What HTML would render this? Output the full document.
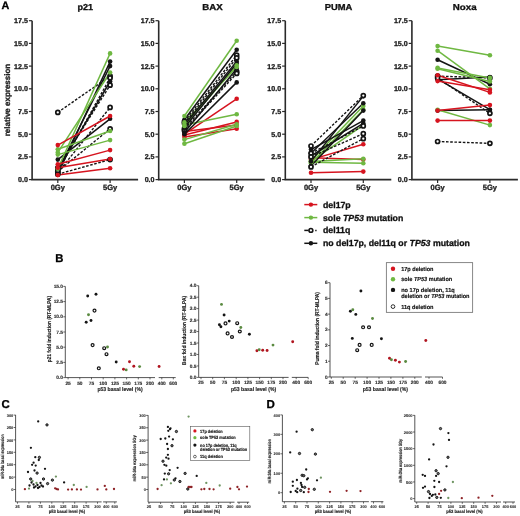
<!DOCTYPE html><html><head><meta charset="utf-8"><style>html,body{margin:0;padding:0;background:#fff;}svg{display:block;filter:blur(0.35px);}text{font-family:"Liberation Sans",sans-serif;text-rendering:geometricPrecision;}</style></head><body>
<svg width="520" height="516" viewBox="0 0 520 516">
<rect width="520" height="516" fill="#fff"/>
<text x="1.6" y="8.9" font-size="10.8" text-anchor="start" font-weight="bold" fill="#000" stroke="#000" stroke-width="0.3">A</text>
<text x="55.2" y="262.2" font-size="11.3" text-anchor="start" font-weight="bold" fill="#000" stroke="#000" stroke-width="0.3">B</text>
<text x="1.4" y="407.6" font-size="11.4" text-anchor="start" font-weight="bold" fill="#000" stroke="#000" stroke-width="0.3">C</text>
<text x="266.4" y="407.5" font-size="11.5" text-anchor="start" font-weight="bold" fill="#000" stroke="#000" stroke-width="0.3">D</text>
<path d="M32.1 20.69999999999999 V179.6 H138.1" fill="none" stroke="#2a2a2a" stroke-width="1.6"/>
<path d="M28.900000000000002 179.6H32.1" stroke="#2a2a2a" stroke-width="1.2"/>
<text x="27.900000000000002" y="182.1" font-size="7.1" text-anchor="end" font-weight="bold" fill="#1a1a1a" stroke="#1a1a1a" stroke-width="0.3">0.0</text>
<path d="M28.900000000000002 156.9H32.1" stroke="#2a2a2a" stroke-width="1.2"/>
<text x="27.900000000000002" y="159.4" font-size="7.1" text-anchor="end" font-weight="bold" fill="#1a1a1a" stroke="#1a1a1a" stroke-width="0.3">2.5</text>
<path d="M28.900000000000002 134.2H32.1" stroke="#2a2a2a" stroke-width="1.2"/>
<text x="27.900000000000002" y="136.7" font-size="7.1" text-anchor="end" font-weight="bold" fill="#1a1a1a" stroke="#1a1a1a" stroke-width="0.3">5.0</text>
<path d="M28.900000000000002 111.5H32.1" stroke="#2a2a2a" stroke-width="1.2"/>
<text x="27.900000000000002" y="114.0" font-size="7.1" text-anchor="end" font-weight="bold" fill="#1a1a1a" stroke="#1a1a1a" stroke-width="0.3">7.5</text>
<path d="M28.900000000000002 88.8H32.1" stroke="#2a2a2a" stroke-width="1.2"/>
<text x="27.900000000000002" y="91.3" font-size="7.1" text-anchor="end" font-weight="bold" fill="#1a1a1a" stroke="#1a1a1a" stroke-width="0.3">10.0</text>
<path d="M28.900000000000002 66.1H32.1" stroke="#2a2a2a" stroke-width="1.2"/>
<text x="27.900000000000002" y="68.6" font-size="7.1" text-anchor="end" font-weight="bold" fill="#1a1a1a" stroke="#1a1a1a" stroke-width="0.3">12.5</text>
<path d="M28.900000000000002 43.400000000000006H32.1" stroke="#2a2a2a" stroke-width="1.2"/>
<text x="27.900000000000002" y="45.900000000000006" font-size="7.1" text-anchor="end" font-weight="bold" fill="#1a1a1a" stroke="#1a1a1a" stroke-width="0.3">15.0</text>
<path d="M28.900000000000002 20.69999999999999H32.1" stroke="#2a2a2a" stroke-width="1.2"/>
<text x="27.900000000000002" y="23.19999999999999" font-size="7.1" text-anchor="end" font-weight="bold" fill="#1a1a1a" stroke="#1a1a1a" stroke-width="0.3">17.5</text>
<path d="M57.8 179.6V183.0" stroke="#2a2a2a" stroke-width="1.2"/>
<text x="57.8" y="189.6" font-size="7.5" text-anchor="middle" font-weight="bold" fill="#222" stroke="#222" stroke-width="0.3">0Gy</text>
<path d="M110.1 179.6V183.0" stroke="#2a2a2a" stroke-width="1.2"/>
<text x="110.1" y="189.6" font-size="7.5" text-anchor="middle" font-weight="bold" fill="#222" stroke="#222" stroke-width="0.3">5Gy</text>
<text x="85.3" y="10.4" font-size="8.6" text-anchor="middle" font-weight="bold" fill="#111" stroke="#111" stroke-width="0.3" textLength="15.6" lengthAdjust="spacingAndGlyphs">p21</text>
<line x1="57.8" y1="174.2" x2="110.1" y2="61.6" stroke="#141414" stroke-width="1.5"/>
<line x1="57.8" y1="170.5" x2="110.1" y2="66.1" stroke="#141414" stroke-width="1.5"/>
<line x1="57.8" y1="169.6" x2="110.1" y2="81.5" stroke="#141414" stroke-width="1.5"/>
<line x1="57.8" y1="159.6" x2="110.1" y2="118.8" stroke="#141414" stroke-width="1.5"/>
<line x1="57.8" y1="112.4" x2="110.1" y2="76.1" stroke="#141414" stroke-width="1.4" stroke-dasharray="2.6 1.6"/>
<line x1="57.8" y1="171.4" x2="110.1" y2="77.9" stroke="#141414" stroke-width="1.4" stroke-dasharray="2.6 1.6"/>
<line x1="57.8" y1="167.8" x2="110.1" y2="85.2" stroke="#141414" stroke-width="1.4" stroke-dasharray="2.6 1.6"/>
<line x1="57.8" y1="172.8" x2="110.1" y2="107.4" stroke="#141414" stroke-width="1.4" stroke-dasharray="2.6 1.6"/>
<line x1="57.8" y1="171.4" x2="110.1" y2="128.8" stroke="#141414" stroke-width="1.4" stroke-dasharray="2.6 1.6"/>
<line x1="57.8" y1="174.2" x2="110.1" y2="159.6" stroke="#141414" stroke-width="1.4" stroke-dasharray="2.6 1.6"/>
<line x1="57.8" y1="168.7" x2="110.1" y2="53.4" stroke="#6fb842" stroke-width="1.5"/>
<line x1="57.8" y1="152.4" x2="110.1" y2="72.5" stroke="#6fb842" stroke-width="1.5"/>
<line x1="57.8" y1="149.2" x2="110.1" y2="131.0" stroke="#6fb842" stroke-width="1.5"/>
<line x1="57.8" y1="154.6" x2="110.1" y2="140.1" stroke="#6fb842" stroke-width="1.5"/>
<line x1="57.8" y1="145.1" x2="110.1" y2="116.0" stroke="#d6141f" stroke-width="1.5"/>
<line x1="57.8" y1="164.2" x2="110.1" y2="150.1" stroke="#d6141f" stroke-width="1.5"/>
<line x1="57.8" y1="167.8" x2="110.1" y2="159.0" stroke="#d6141f" stroke-width="1.5"/>
<line x1="57.8" y1="175.1" x2="110.1" y2="168.2" stroke="#d6141f" stroke-width="1.5"/>
<circle cx="57.8" cy="174.2" r="2.3" fill="#141414"/>
<circle cx="110.1" cy="61.6" r="2.3" fill="#141414"/>
<circle cx="57.8" cy="170.5" r="2.3" fill="#141414"/>
<circle cx="110.1" cy="66.1" r="2.3" fill="#141414"/>
<circle cx="57.8" cy="169.6" r="2.3" fill="#141414"/>
<circle cx="110.1" cy="81.5" r="2.3" fill="#141414"/>
<circle cx="57.8" cy="159.6" r="2.3" fill="#141414"/>
<circle cx="110.1" cy="118.8" r="2.3" fill="#141414"/>
<circle cx="57.8" cy="112.4" r="2.0" fill="#fff" stroke="#141414" stroke-width="1.7"/>
<circle cx="110.1" cy="76.1" r="2.0" fill="#fff" stroke="#141414" stroke-width="1.7"/>
<circle cx="57.8" cy="171.4" r="2.0" fill="#fff" stroke="#141414" stroke-width="1.7"/>
<circle cx="110.1" cy="77.9" r="2.0" fill="#fff" stroke="#141414" stroke-width="1.7"/>
<circle cx="57.8" cy="167.8" r="2.0" fill="#fff" stroke="#141414" stroke-width="1.7"/>
<circle cx="110.1" cy="85.2" r="2.0" fill="#fff" stroke="#141414" stroke-width="1.7"/>
<circle cx="57.8" cy="172.8" r="2.0" fill="#fff" stroke="#141414" stroke-width="1.7"/>
<circle cx="110.1" cy="107.4" r="2.0" fill="#fff" stroke="#141414" stroke-width="1.7"/>
<circle cx="57.8" cy="171.4" r="2.0" fill="#fff" stroke="#141414" stroke-width="1.7"/>
<circle cx="110.1" cy="128.8" r="2.0" fill="#fff" stroke="#141414" stroke-width="1.7"/>
<circle cx="57.8" cy="174.2" r="2.0" fill="#fff" stroke="#141414" stroke-width="1.7"/>
<circle cx="110.1" cy="159.6" r="2.0" fill="#fff" stroke="#141414" stroke-width="1.7"/>
<circle cx="57.8" cy="168.7" r="2.3" fill="#6fb842"/>
<circle cx="110.1" cy="53.4" r="2.3" fill="#6fb842"/>
<circle cx="57.8" cy="152.4" r="2.3" fill="#6fb842"/>
<circle cx="110.1" cy="72.5" r="2.3" fill="#6fb842"/>
<circle cx="57.8" cy="149.2" r="2.3" fill="#6fb842"/>
<circle cx="110.1" cy="131.0" r="2.3" fill="#6fb842"/>
<circle cx="57.8" cy="154.6" r="2.3" fill="#6fb842"/>
<circle cx="110.1" cy="140.1" r="2.3" fill="#6fb842"/>
<circle cx="57.8" cy="145.1" r="2.3" fill="#d6141f"/>
<circle cx="110.1" cy="116.0" r="2.3" fill="#d6141f"/>
<circle cx="57.8" cy="164.2" r="2.3" fill="#d6141f"/>
<circle cx="110.1" cy="150.1" r="2.3" fill="#d6141f"/>
<circle cx="57.8" cy="167.8" r="2.3" fill="#d6141f"/>
<circle cx="110.1" cy="159.0" r="2.3" fill="#d6141f"/>
<circle cx="57.8" cy="175.1" r="2.3" fill="#d6141f"/>
<circle cx="110.1" cy="168.2" r="2.3" fill="#d6141f"/>
<path d="M158.7 20.69999999999999 V179.6 H264.7" fill="none" stroke="#2a2a2a" stroke-width="1.6"/>
<path d="M155.5 179.6H158.7" stroke="#2a2a2a" stroke-width="1.2"/>
<text x="154.5" y="182.1" font-size="7.1" text-anchor="end" font-weight="bold" fill="#1a1a1a" stroke="#1a1a1a" stroke-width="0.3">0.0</text>
<path d="M155.5 156.9H158.7" stroke="#2a2a2a" stroke-width="1.2"/>
<text x="154.5" y="159.4" font-size="7.1" text-anchor="end" font-weight="bold" fill="#1a1a1a" stroke="#1a1a1a" stroke-width="0.3">2.5</text>
<path d="M155.5 134.2H158.7" stroke="#2a2a2a" stroke-width="1.2"/>
<text x="154.5" y="136.7" font-size="7.1" text-anchor="end" font-weight="bold" fill="#1a1a1a" stroke="#1a1a1a" stroke-width="0.3">5.0</text>
<path d="M155.5 111.5H158.7" stroke="#2a2a2a" stroke-width="1.2"/>
<text x="154.5" y="114.0" font-size="7.1" text-anchor="end" font-weight="bold" fill="#1a1a1a" stroke="#1a1a1a" stroke-width="0.3">7.5</text>
<path d="M155.5 88.8H158.7" stroke="#2a2a2a" stroke-width="1.2"/>
<text x="154.5" y="91.3" font-size="7.1" text-anchor="end" font-weight="bold" fill="#1a1a1a" stroke="#1a1a1a" stroke-width="0.3">10.0</text>
<path d="M155.5 66.1H158.7" stroke="#2a2a2a" stroke-width="1.2"/>
<text x="154.5" y="68.6" font-size="7.1" text-anchor="end" font-weight="bold" fill="#1a1a1a" stroke="#1a1a1a" stroke-width="0.3">12.5</text>
<path d="M155.5 43.400000000000006H158.7" stroke="#2a2a2a" stroke-width="1.2"/>
<text x="154.5" y="45.900000000000006" font-size="7.1" text-anchor="end" font-weight="bold" fill="#1a1a1a" stroke="#1a1a1a" stroke-width="0.3">15.0</text>
<path d="M155.5 20.69999999999999H158.7" stroke="#2a2a2a" stroke-width="1.2"/>
<text x="154.5" y="23.19999999999999" font-size="7.1" text-anchor="end" font-weight="bold" fill="#1a1a1a" stroke="#1a1a1a" stroke-width="0.3">17.5</text>
<path d="M184.39999999999998 179.6V183.0" stroke="#2a2a2a" stroke-width="1.2"/>
<text x="184.39999999999998" y="189.6" font-size="7.5" text-anchor="middle" font-weight="bold" fill="#222" stroke="#222" stroke-width="0.3">0Gy</text>
<path d="M236.7 179.6V183.0" stroke="#2a2a2a" stroke-width="1.2"/>
<text x="236.7" y="189.6" font-size="7.5" text-anchor="middle" font-weight="bold" fill="#222" stroke="#222" stroke-width="0.3">5Gy</text>
<text x="212.5" y="10.4" font-size="8.6" text-anchor="middle" font-weight="bold" fill="#111" stroke="#111" stroke-width="0.3" textLength="20.4" lengthAdjust="spacingAndGlyphs">BAX</text>
<line x1="184.39999999999998" y1="134.2" x2="236.7" y2="98.8" stroke="#d6141f" stroke-width="1.5"/>
<line x1="184.39999999999998" y1="135.1" x2="236.7" y2="121.9" stroke="#d6141f" stroke-width="1.5"/>
<line x1="184.39999999999998" y1="136.9" x2="236.7" y2="128.8" stroke="#d6141f" stroke-width="1.5"/>
<line x1="184.39999999999998" y1="131.5" x2="236.7" y2="125.1" stroke="#d6141f" stroke-width="1.5"/>
<line x1="184.39999999999998" y1="116.0" x2="236.7" y2="40.7" stroke="#6fb842" stroke-width="1.5"/>
<line x1="184.39999999999998" y1="126.0" x2="236.7" y2="65.2" stroke="#6fb842" stroke-width="1.5"/>
<line x1="184.39999999999998" y1="122.4" x2="236.7" y2="67.0" stroke="#6fb842" stroke-width="1.5"/>
<line x1="184.39999999999998" y1="125.1" x2="236.7" y2="114.2" stroke="#6fb842" stroke-width="1.5"/>
<line x1="184.39999999999998" y1="139.6" x2="236.7" y2="124.2" stroke="#6fb842" stroke-width="1.5"/>
<line x1="184.39999999999998" y1="143.7" x2="236.7" y2="126.0" stroke="#6fb842" stroke-width="1.5"/>
<line x1="184.39999999999998" y1="121.5" x2="236.7" y2="55.2" stroke="#141414" stroke-width="1.4" stroke-dasharray="2.6 1.6"/>
<line x1="184.39999999999998" y1="123.3" x2="236.7" y2="57.9" stroke="#141414" stroke-width="1.4" stroke-dasharray="2.6 1.6"/>
<line x1="184.39999999999998" y1="128.8" x2="236.7" y2="71.5" stroke="#141414" stroke-width="1.4" stroke-dasharray="2.6 1.6"/>
<line x1="184.39999999999998" y1="130.6" x2="236.7" y2="73.4" stroke="#141414" stroke-width="1.4" stroke-dasharray="2.6 1.6"/>
<line x1="184.39999999999998" y1="119.7" x2="236.7" y2="49.8" stroke="#141414" stroke-width="1.5"/>
<line x1="184.39999999999998" y1="125.1" x2="236.7" y2="61.6" stroke="#141414" stroke-width="1.5"/>
<line x1="184.39999999999998" y1="132.4" x2="236.7" y2="68.8" stroke="#141414" stroke-width="1.5"/>
<line x1="184.39999999999998" y1="134.2" x2="236.7" y2="82.4" stroke="#141414" stroke-width="1.5"/>
<line x1="184.39999999999998" y1="127.8" x2="236.7" y2="63.4" stroke="#141414" stroke-width="1.5"/>
<circle cx="184.39999999999998" cy="134.2" r="2.3" fill="#d6141f"/>
<circle cx="236.7" cy="98.8" r="2.3" fill="#d6141f"/>
<circle cx="184.39999999999998" cy="135.1" r="2.3" fill="#d6141f"/>
<circle cx="236.7" cy="121.9" r="2.3" fill="#d6141f"/>
<circle cx="184.39999999999998" cy="136.9" r="2.3" fill="#d6141f"/>
<circle cx="236.7" cy="128.8" r="2.3" fill="#d6141f"/>
<circle cx="184.39999999999998" cy="131.5" r="2.3" fill="#d6141f"/>
<circle cx="236.7" cy="125.1" r="2.3" fill="#d6141f"/>
<circle cx="184.39999999999998" cy="121.5" r="2.0" fill="#fff" stroke="#141414" stroke-width="1.7"/>
<circle cx="236.7" cy="55.2" r="2.0" fill="#fff" stroke="#141414" stroke-width="1.7"/>
<circle cx="184.39999999999998" cy="123.3" r="2.0" fill="#fff" stroke="#141414" stroke-width="1.7"/>
<circle cx="236.7" cy="57.9" r="2.0" fill="#fff" stroke="#141414" stroke-width="1.7"/>
<circle cx="184.39999999999998" cy="128.8" r="2.0" fill="#fff" stroke="#141414" stroke-width="1.7"/>
<circle cx="236.7" cy="71.5" r="2.0" fill="#fff" stroke="#141414" stroke-width="1.7"/>
<circle cx="184.39999999999998" cy="130.6" r="2.0" fill="#fff" stroke="#141414" stroke-width="1.7"/>
<circle cx="236.7" cy="73.4" r="2.0" fill="#fff" stroke="#141414" stroke-width="1.7"/>
<circle cx="184.39999999999998" cy="119.7" r="2.3" fill="#141414"/>
<circle cx="236.7" cy="49.8" r="2.3" fill="#141414"/>
<circle cx="184.39999999999998" cy="125.1" r="2.3" fill="#141414"/>
<circle cx="236.7" cy="61.6" r="2.3" fill="#141414"/>
<circle cx="184.39999999999998" cy="132.4" r="2.3" fill="#141414"/>
<circle cx="236.7" cy="68.8" r="2.3" fill="#141414"/>
<circle cx="184.39999999999998" cy="134.2" r="2.3" fill="#141414"/>
<circle cx="236.7" cy="82.4" r="2.3" fill="#141414"/>
<circle cx="184.39999999999998" cy="127.8" r="2.3" fill="#141414"/>
<circle cx="236.7" cy="63.4" r="2.3" fill="#141414"/>
<circle cx="184.39999999999998" cy="116.0" r="2.3" fill="#6fb842"/>
<circle cx="236.7" cy="40.7" r="2.3" fill="#6fb842"/>
<circle cx="184.39999999999998" cy="126.0" r="2.3" fill="#6fb842"/>
<circle cx="236.7" cy="65.2" r="2.3" fill="#6fb842"/>
<circle cx="184.39999999999998" cy="122.4" r="2.3" fill="#6fb842"/>
<circle cx="236.7" cy="67.0" r="2.3" fill="#6fb842"/>
<circle cx="184.39999999999998" cy="125.1" r="2.3" fill="#6fb842"/>
<circle cx="236.7" cy="114.2" r="2.3" fill="#6fb842"/>
<circle cx="184.39999999999998" cy="139.6" r="2.3" fill="#6fb842"/>
<circle cx="236.7" cy="124.2" r="2.3" fill="#6fb842"/>
<circle cx="184.39999999999998" cy="143.7" r="2.3" fill="#6fb842"/>
<circle cx="236.7" cy="126.0" r="2.3" fill="#6fb842"/>
<path d="M285.3 20.69999999999999 V179.6 H391.3" fill="none" stroke="#2a2a2a" stroke-width="1.6"/>
<path d="M282.1 179.6H285.3" stroke="#2a2a2a" stroke-width="1.2"/>
<text x="281.1" y="182.1" font-size="7.1" text-anchor="end" font-weight="bold" fill="#1a1a1a" stroke="#1a1a1a" stroke-width="0.3">0.0</text>
<path d="M282.1 156.9H285.3" stroke="#2a2a2a" stroke-width="1.2"/>
<text x="281.1" y="159.4" font-size="7.1" text-anchor="end" font-weight="bold" fill="#1a1a1a" stroke="#1a1a1a" stroke-width="0.3">2.5</text>
<path d="M282.1 134.2H285.3" stroke="#2a2a2a" stroke-width="1.2"/>
<text x="281.1" y="136.7" font-size="7.1" text-anchor="end" font-weight="bold" fill="#1a1a1a" stroke="#1a1a1a" stroke-width="0.3">5.0</text>
<path d="M282.1 111.5H285.3" stroke="#2a2a2a" stroke-width="1.2"/>
<text x="281.1" y="114.0" font-size="7.1" text-anchor="end" font-weight="bold" fill="#1a1a1a" stroke="#1a1a1a" stroke-width="0.3">7.5</text>
<path d="M282.1 88.8H285.3" stroke="#2a2a2a" stroke-width="1.2"/>
<text x="281.1" y="91.3" font-size="7.1" text-anchor="end" font-weight="bold" fill="#1a1a1a" stroke="#1a1a1a" stroke-width="0.3">10.0</text>
<path d="M282.1 66.1H285.3" stroke="#2a2a2a" stroke-width="1.2"/>
<text x="281.1" y="68.6" font-size="7.1" text-anchor="end" font-weight="bold" fill="#1a1a1a" stroke="#1a1a1a" stroke-width="0.3">12.5</text>
<path d="M282.1 43.400000000000006H285.3" stroke="#2a2a2a" stroke-width="1.2"/>
<text x="281.1" y="45.900000000000006" font-size="7.1" text-anchor="end" font-weight="bold" fill="#1a1a1a" stroke="#1a1a1a" stroke-width="0.3">15.0</text>
<path d="M282.1 20.69999999999999H285.3" stroke="#2a2a2a" stroke-width="1.2"/>
<text x="281.1" y="23.19999999999999" font-size="7.1" text-anchor="end" font-weight="bold" fill="#1a1a1a" stroke="#1a1a1a" stroke-width="0.3">17.5</text>
<path d="M311.0 179.6V183.0" stroke="#2a2a2a" stroke-width="1.2"/>
<text x="311.0" y="189.6" font-size="7.5" text-anchor="middle" font-weight="bold" fill="#222" stroke="#222" stroke-width="0.3">0Gy</text>
<path d="M363.3 179.6V183.0" stroke="#2a2a2a" stroke-width="1.2"/>
<text x="363.3" y="189.6" font-size="7.5" text-anchor="middle" font-weight="bold" fill="#222" stroke="#222" stroke-width="0.3">5Gy</text>
<text x="338.6" y="10.4" font-size="8.6" text-anchor="middle" font-weight="bold" fill="#111" stroke="#111" stroke-width="0.3" textLength="27.6" lengthAdjust="spacingAndGlyphs">PUMA</text>
<line x1="311.0" y1="159.6" x2="363.3" y2="144.2" stroke="#d6141f" stroke-width="1.5"/>
<line x1="311.0" y1="157.8" x2="363.3" y2="159.6" stroke="#d6141f" stroke-width="1.5"/>
<line x1="311.0" y1="172.8" x2="363.3" y2="171.6" stroke="#d6141f" stroke-width="1.5"/>
<line x1="311.0" y1="160.5" x2="363.3" y2="106.1" stroke="#6fb842" stroke-width="1.5"/>
<line x1="311.0" y1="163.3" x2="363.3" y2="109.7" stroke="#6fb842" stroke-width="1.5"/>
<line x1="311.0" y1="161.4" x2="363.3" y2="125.1" stroke="#6fb842" stroke-width="1.5"/>
<line x1="311.0" y1="161.4" x2="363.3" y2="158.7" stroke="#6fb842" stroke-width="1.5"/>
<line x1="311.0" y1="162.3" x2="363.3" y2="163.3" stroke="#6fb842" stroke-width="1.5"/>
<line x1="311.0" y1="161.4" x2="363.3" y2="96.1" stroke="#141414" stroke-width="1.5"/>
<line x1="311.0" y1="153.3" x2="363.3" y2="103.3" stroke="#141414" stroke-width="1.5"/>
<line x1="311.0" y1="149.6" x2="363.3" y2="120.6" stroke="#141414" stroke-width="1.5"/>
<line x1="311.0" y1="156.0" x2="363.3" y2="123.3" stroke="#141414" stroke-width="1.5"/>
<line x1="311.0" y1="166.0" x2="363.3" y2="110.6" stroke="#141414" stroke-width="1.5"/>
<line x1="311.0" y1="146.0" x2="363.3" y2="95.6" stroke="#141414" stroke-width="1.4" stroke-dasharray="2.6 1.6"/>
<line x1="311.0" y1="153.3" x2="363.3" y2="126.0" stroke="#141414" stroke-width="1.4" stroke-dasharray="2.6 1.6"/>
<line x1="311.0" y1="156.9" x2="363.3" y2="133.7" stroke="#141414" stroke-width="1.4" stroke-dasharray="2.6 1.6"/>
<line x1="311.0" y1="166.9" x2="363.3" y2="138.7" stroke="#141414" stroke-width="1.4" stroke-dasharray="2.6 1.6"/>
<circle cx="311.0" cy="159.6" r="2.3" fill="#d6141f"/>
<circle cx="363.3" cy="144.2" r="2.3" fill="#d6141f"/>
<circle cx="311.0" cy="157.8" r="2.3" fill="#d6141f"/>
<circle cx="363.3" cy="159.6" r="2.3" fill="#d6141f"/>
<circle cx="311.0" cy="172.8" r="2.3" fill="#d6141f"/>
<circle cx="363.3" cy="171.6" r="2.3" fill="#d6141f"/>
<circle cx="311.0" cy="160.5" r="2.3" fill="#6fb842"/>
<circle cx="363.3" cy="106.1" r="2.3" fill="#6fb842"/>
<circle cx="311.0" cy="163.3" r="2.3" fill="#6fb842"/>
<circle cx="363.3" cy="109.7" r="2.3" fill="#6fb842"/>
<circle cx="311.0" cy="161.4" r="2.3" fill="#6fb842"/>
<circle cx="363.3" cy="125.1" r="2.3" fill="#6fb842"/>
<circle cx="311.0" cy="161.4" r="2.3" fill="#6fb842"/>
<circle cx="363.3" cy="158.7" r="2.3" fill="#6fb842"/>
<circle cx="311.0" cy="162.3" r="2.3" fill="#6fb842"/>
<circle cx="363.3" cy="163.3" r="2.3" fill="#6fb842"/>
<circle cx="311.0" cy="161.4" r="2.3" fill="#141414"/>
<circle cx="363.3" cy="96.1" r="2.3" fill="#141414"/>
<circle cx="311.0" cy="153.3" r="2.3" fill="#141414"/>
<circle cx="363.3" cy="103.3" r="2.3" fill="#141414"/>
<circle cx="311.0" cy="149.6" r="2.3" fill="#141414"/>
<circle cx="363.3" cy="120.6" r="2.3" fill="#141414"/>
<circle cx="311.0" cy="156.0" r="2.3" fill="#141414"/>
<circle cx="363.3" cy="123.3" r="2.3" fill="#141414"/>
<circle cx="311.0" cy="166.0" r="2.3" fill="#141414"/>
<circle cx="363.3" cy="110.6" r="2.3" fill="#141414"/>
<circle cx="311.0" cy="146.0" r="2.0" fill="#fff" stroke="#141414" stroke-width="1.7"/>
<circle cx="363.3" cy="95.6" r="2.0" fill="#fff" stroke="#141414" stroke-width="1.7"/>
<circle cx="311.0" cy="153.3" r="2.0" fill="#fff" stroke="#141414" stroke-width="1.7"/>
<circle cx="363.3" cy="126.0" r="2.0" fill="#fff" stroke="#141414" stroke-width="1.7"/>
<circle cx="311.0" cy="156.9" r="2.0" fill="#fff" stroke="#141414" stroke-width="1.7"/>
<circle cx="363.3" cy="133.7" r="2.0" fill="#fff" stroke="#141414" stroke-width="1.7"/>
<circle cx="311.0" cy="166.9" r="2.0" fill="#fff" stroke="#141414" stroke-width="1.7"/>
<circle cx="363.3" cy="138.7" r="2.0" fill="#fff" stroke="#141414" stroke-width="1.7"/>
<path d="M411.9 20.69999999999999 V179.6 H517.9" fill="none" stroke="#2a2a2a" stroke-width="1.6"/>
<path d="M408.7 179.6H411.9" stroke="#2a2a2a" stroke-width="1.2"/>
<text x="407.7" y="182.1" font-size="7.1" text-anchor="end" font-weight="bold" fill="#1a1a1a" stroke="#1a1a1a" stroke-width="0.3">0.0</text>
<path d="M408.7 156.9H411.9" stroke="#2a2a2a" stroke-width="1.2"/>
<text x="407.7" y="159.4" font-size="7.1" text-anchor="end" font-weight="bold" fill="#1a1a1a" stroke="#1a1a1a" stroke-width="0.3">2.5</text>
<path d="M408.7 134.2H411.9" stroke="#2a2a2a" stroke-width="1.2"/>
<text x="407.7" y="136.7" font-size="7.1" text-anchor="end" font-weight="bold" fill="#1a1a1a" stroke="#1a1a1a" stroke-width="0.3">5.0</text>
<path d="M408.7 111.5H411.9" stroke="#2a2a2a" stroke-width="1.2"/>
<text x="407.7" y="114.0" font-size="7.1" text-anchor="end" font-weight="bold" fill="#1a1a1a" stroke="#1a1a1a" stroke-width="0.3">7.5</text>
<path d="M408.7 88.8H411.9" stroke="#2a2a2a" stroke-width="1.2"/>
<text x="407.7" y="91.3" font-size="7.1" text-anchor="end" font-weight="bold" fill="#1a1a1a" stroke="#1a1a1a" stroke-width="0.3">10.0</text>
<path d="M408.7 66.1H411.9" stroke="#2a2a2a" stroke-width="1.2"/>
<text x="407.7" y="68.6" font-size="7.1" text-anchor="end" font-weight="bold" fill="#1a1a1a" stroke="#1a1a1a" stroke-width="0.3">12.5</text>
<path d="M408.7 43.400000000000006H411.9" stroke="#2a2a2a" stroke-width="1.2"/>
<text x="407.7" y="45.900000000000006" font-size="7.1" text-anchor="end" font-weight="bold" fill="#1a1a1a" stroke="#1a1a1a" stroke-width="0.3">15.0</text>
<path d="M408.7 20.69999999999999H411.9" stroke="#2a2a2a" stroke-width="1.2"/>
<text x="407.7" y="23.19999999999999" font-size="7.1" text-anchor="end" font-weight="bold" fill="#1a1a1a" stroke="#1a1a1a" stroke-width="0.3">17.5</text>
<path d="M437.59999999999997 179.6V183.0" stroke="#2a2a2a" stroke-width="1.2"/>
<text x="437.59999999999997" y="189.6" font-size="7.5" text-anchor="middle" font-weight="bold" fill="#222" stroke="#222" stroke-width="0.3">0Gy</text>
<path d="M489.9 179.6V183.0" stroke="#2a2a2a" stroke-width="1.2"/>
<text x="489.9" y="189.6" font-size="7.5" text-anchor="middle" font-weight="bold" fill="#222" stroke="#222" stroke-width="0.3">5Gy</text>
<text x="464.7" y="10.4" font-size="8.6" text-anchor="middle" font-weight="bold" fill="#111" stroke="#111" stroke-width="0.3" textLength="23.8" lengthAdjust="spacingAndGlyphs">Noxa</text>
<line x1="437.59999999999997" y1="59.7" x2="489.9" y2="84.3" stroke="#141414" stroke-width="1.5"/>
<line x1="437.59999999999997" y1="78.8" x2="489.9" y2="109.7" stroke="#141414" stroke-width="1.5"/>
<line x1="437.59999999999997" y1="79.7" x2="489.9" y2="77.0" stroke="#141414" stroke-width="1.5"/>
<line x1="437.59999999999997" y1="110.6" x2="489.9" y2="109.7" stroke="#141414" stroke-width="1.5"/>
<line x1="437.59999999999997" y1="76.1" x2="489.9" y2="77.9" stroke="#141414" stroke-width="1.4" stroke-dasharray="2.6 1.6"/>
<line x1="437.59999999999997" y1="77.9" x2="489.9" y2="113.3" stroke="#141414" stroke-width="1.4" stroke-dasharray="2.6 1.6"/>
<line x1="437.59999999999997" y1="141.5" x2="489.9" y2="143.3" stroke="#141414" stroke-width="1.4" stroke-dasharray="2.6 1.6"/>
<line x1="437.59999999999997" y1="46.1" x2="489.9" y2="55.2" stroke="#6fb842" stroke-width="1.5"/>
<line x1="437.59999999999997" y1="50.7" x2="489.9" y2="88.8" stroke="#6fb842" stroke-width="1.5"/>
<line x1="437.59999999999997" y1="68.8" x2="489.9" y2="81.5" stroke="#6fb842" stroke-width="1.5"/>
<line x1="437.59999999999997" y1="67.9" x2="489.9" y2="77.9" stroke="#6fb842" stroke-width="1.5"/>
<line x1="437.59999999999997" y1="109.7" x2="489.9" y2="125.1" stroke="#6fb842" stroke-width="1.5"/>
<line x1="437.59999999999997" y1="75.2" x2="489.9" y2="92.4" stroke="#d6141f" stroke-width="1.5"/>
<line x1="437.59999999999997" y1="81.1" x2="489.9" y2="89.7" stroke="#d6141f" stroke-width="1.5"/>
<line x1="437.59999999999997" y1="110.6" x2="489.9" y2="105.1" stroke="#d6141f" stroke-width="1.5"/>
<line x1="437.59999999999997" y1="120.6" x2="489.9" y2="120.6" stroke="#d6141f" stroke-width="1.5"/>
<circle cx="437.59999999999997" cy="59.7" r="2.3" fill="#141414"/>
<circle cx="489.9" cy="84.3" r="2.3" fill="#141414"/>
<circle cx="437.59999999999997" cy="78.8" r="2.3" fill="#141414"/>
<circle cx="489.9" cy="109.7" r="2.3" fill="#141414"/>
<circle cx="437.59999999999997" cy="79.7" r="2.3" fill="#141414"/>
<circle cx="489.9" cy="77.0" r="2.3" fill="#141414"/>
<circle cx="437.59999999999997" cy="110.6" r="2.3" fill="#141414"/>
<circle cx="489.9" cy="109.7" r="2.3" fill="#141414"/>
<circle cx="437.59999999999997" cy="76.1" r="2.0" fill="#fff" stroke="#141414" stroke-width="1.7"/>
<circle cx="489.9" cy="77.9" r="2.0" fill="#fff" stroke="#141414" stroke-width="1.7"/>
<circle cx="437.59999999999997" cy="77.9" r="2.0" fill="#fff" stroke="#141414" stroke-width="1.7"/>
<circle cx="489.9" cy="113.3" r="2.0" fill="#fff" stroke="#141414" stroke-width="1.7"/>
<circle cx="437.59999999999997" cy="141.5" r="2.0" fill="#fff" stroke="#141414" stroke-width="1.7"/>
<circle cx="489.9" cy="143.3" r="2.0" fill="#fff" stroke="#141414" stroke-width="1.7"/>
<circle cx="437.59999999999997" cy="46.1" r="2.3" fill="#6fb842"/>
<circle cx="489.9" cy="55.2" r="2.3" fill="#6fb842"/>
<circle cx="437.59999999999997" cy="50.7" r="2.3" fill="#6fb842"/>
<circle cx="489.9" cy="88.8" r="2.3" fill="#6fb842"/>
<circle cx="437.59999999999997" cy="68.8" r="2.3" fill="#6fb842"/>
<circle cx="489.9" cy="81.5" r="2.3" fill="#6fb842"/>
<circle cx="437.59999999999997" cy="67.9" r="2.3" fill="#6fb842"/>
<circle cx="489.9" cy="77.9" r="2.3" fill="#6fb842"/>
<circle cx="437.59999999999997" cy="109.7" r="2.3" fill="#6fb842"/>
<circle cx="489.9" cy="125.1" r="2.3" fill="#6fb842"/>
<circle cx="437.59999999999997" cy="75.2" r="2.3" fill="#d6141f"/>
<circle cx="489.9" cy="92.4" r="2.3" fill="#d6141f"/>
<circle cx="437.59999999999997" cy="81.1" r="2.3" fill="#d6141f"/>
<circle cx="489.9" cy="89.7" r="2.3" fill="#d6141f"/>
<circle cx="437.59999999999997" cy="110.6" r="2.3" fill="#d6141f"/>
<circle cx="489.9" cy="105.1" r="2.3" fill="#d6141f"/>
<circle cx="437.59999999999997" cy="120.6" r="2.3" fill="#d6141f"/>
<circle cx="489.9" cy="120.6" r="2.3" fill="#d6141f"/>
<text x="9.9" y="100" font-size="8.0" text-anchor="middle" font-weight="bold" fill="#222" stroke="#222" stroke-width="0.3" textLength="72.5" lengthAdjust="spacingAndGlyphs" transform="rotate(-90 9.9 100)">relative expression</text>
<line x1="304.3" y1="204.6" x2="317.3" y2="204.6" stroke="#d6141f" stroke-width="1.5"/>
<circle cx="310.9" cy="204.6" r="2.2" fill="#d6141f"/>
<line x1="304.3" y1="217.6" x2="317.3" y2="217.6" stroke="#6fb842" stroke-width="1.5"/>
<circle cx="310.9" cy="217.6" r="2.2" fill="#6fb842"/>
<line x1="304.3" y1="230.4" x2="308.6" y2="230.4" stroke="#141414" stroke-width="1.5"/>
<line x1="315.2" y1="230.4" x2="316.6" y2="230.4" stroke="#141414" stroke-width="1.5"/>
<circle cx="310.9" cy="230.4" r="1.9" fill="#fff" stroke="#141414" stroke-width="1.6"/>
<line x1="304.3" y1="243.3" x2="317.3" y2="243.3" stroke="#141414" stroke-width="1.5"/>
<circle cx="310.9" cy="243.3" r="2.2" fill="#141414"/>
<text x="323" y="207.6" font-size="8.75" font-weight="bold" fill="#111" stroke="#111" stroke-width="0.3">del17p</text>
<text x="323" y="220.6" font-size="8.75" font-weight="bold" fill="#111" stroke="#111" stroke-width="0.3">sole <tspan font-style="italic">TP53</tspan> mutation</text>
<text x="323" y="233.4" font-size="8.75" font-weight="bold" fill="#111" stroke="#111" stroke-width="0.3">del11q</text>
<text x="323" y="246.3" font-size="8.75" font-weight="bold" fill="#111" stroke="#111" stroke-width="0.3">no del17p, del11q or <tspan font-style="italic">TP53</tspan> mutation</text>
<path d="M65.3 286.4 V377.6" fill="none" stroke="#2a2a2a" stroke-width="0.8"/>
<path d="M63.3 377.6H65.3" stroke="#2a2a2a" stroke-width="0.7"/>
<text x="63.0" y="379.20000000000005" font-size="4.8" text-anchor="end" font-weight="bold" fill="#333" stroke="#333" stroke-width="0.15">0.0</text>
<path d="M63.3 362.40000000000003H65.3" stroke="#2a2a2a" stroke-width="0.7"/>
<text x="63.0" y="364.00000000000006" font-size="4.8" text-anchor="end" font-weight="bold" fill="#333" stroke="#333" stroke-width="0.15">2.5</text>
<path d="M63.3 347.20000000000005H65.3" stroke="#2a2a2a" stroke-width="0.7"/>
<text x="63.0" y="348.80000000000007" font-size="4.8" text-anchor="end" font-weight="bold" fill="#333" stroke="#333" stroke-width="0.15">5.0</text>
<path d="M63.3 332.0H65.3" stroke="#2a2a2a" stroke-width="0.7"/>
<text x="63.0" y="333.6" font-size="4.8" text-anchor="end" font-weight="bold" fill="#333" stroke="#333" stroke-width="0.15">7.5</text>
<path d="M63.3 316.8H65.3" stroke="#2a2a2a" stroke-width="0.7"/>
<text x="63.0" y="318.40000000000003" font-size="4.8" text-anchor="end" font-weight="bold" fill="#333" stroke="#333" stroke-width="0.15">10.0</text>
<path d="M63.3 301.6H65.3" stroke="#2a2a2a" stroke-width="0.7"/>
<text x="63.0" y="303.20000000000005" font-size="4.8" text-anchor="end" font-weight="bold" fill="#333" stroke="#333" stroke-width="0.15">12.5</text>
<path d="M63.3 286.40000000000003H65.3" stroke="#2a2a2a" stroke-width="0.7"/>
<text x="63.0" y="288.00000000000006" font-size="4.8" text-anchor="end" font-weight="bold" fill="#333" stroke="#333" stroke-width="0.15">15.0</text>
<path d="M65.3 377.6 H155 M158.7 377.6 H175.7" fill="none" stroke="#2a2a2a" stroke-width="0.8"/>
<path d="M68.1 377.6V379.40000000000003" stroke="#2a2a2a" stroke-width="0.7"/>
<text x="68.1" y="384.6" font-size="4.8" text-anchor="middle" font-weight="bold" fill="#333" stroke="#333" stroke-width="0.15">25</text>
<path d="M79.8 377.6V379.40000000000003" stroke="#2a2a2a" stroke-width="0.7"/>
<text x="79.8" y="384.6" font-size="4.8" text-anchor="middle" font-weight="bold" fill="#333" stroke="#333" stroke-width="0.15">50</text>
<path d="M91.5 377.6V379.40000000000003" stroke="#2a2a2a" stroke-width="0.7"/>
<text x="91.5" y="384.6" font-size="4.8" text-anchor="middle" font-weight="bold" fill="#333" stroke="#333" stroke-width="0.15">75</text>
<path d="M103.2 377.6V379.40000000000003" stroke="#2a2a2a" stroke-width="0.7"/>
<text x="103.2" y="384.6" font-size="4.8" text-anchor="middle" font-weight="bold" fill="#333" stroke="#333" stroke-width="0.15">100</text>
<path d="M114.9 377.6V379.40000000000003" stroke="#2a2a2a" stroke-width="0.7"/>
<text x="114.9" y="384.6" font-size="4.8" text-anchor="middle" font-weight="bold" fill="#333" stroke="#333" stroke-width="0.15">125</text>
<path d="M126.6 377.6V379.40000000000003" stroke="#2a2a2a" stroke-width="0.7"/>
<text x="126.6" y="384.6" font-size="4.8" text-anchor="middle" font-weight="bold" fill="#333" stroke="#333" stroke-width="0.15">150</text>
<path d="M138.3 377.6V379.40000000000003" stroke="#2a2a2a" stroke-width="0.7"/>
<text x="138.3" y="384.6" font-size="4.8" text-anchor="middle" font-weight="bold" fill="#333" stroke="#333" stroke-width="0.15">175</text>
<path d="M150.0 377.6V379.40000000000003" stroke="#2a2a2a" stroke-width="0.7"/>
<text x="150.0" y="384.6" font-size="4.8" text-anchor="middle" font-weight="bold" fill="#333" stroke="#333" stroke-width="0.15">200</text>
<path d="M161.8 377.6V379.40000000000003" stroke="#2a2a2a" stroke-width="0.7"/>
<text x="161.8" y="384.6" font-size="4.8" text-anchor="middle" font-weight="bold" fill="#333" stroke="#333" stroke-width="0.15">400</text>
<path d="M173.3 377.6V379.40000000000003" stroke="#2a2a2a" stroke-width="0.7"/>
<text x="173.3" y="384.6" font-size="4.8" text-anchor="middle" font-weight="bold" fill="#333" stroke="#333" stroke-width="0.15">600</text>
<text x="120" y="391.0" font-size="5.6" text-anchor="middle" font-weight="bold" fill="#222" stroke="#222" stroke-width="0.15" textLength="45.2" lengthAdjust="spacingAndGlyphs">p53 basal level (%)</text>
<text x="50.8" y="329" font-size="5.6" text-anchor="middle" font-weight="bold" fill="#222" stroke="#222" stroke-width="0.15" textLength="66.3" lengthAdjust="spacingAndGlyphs" transform="rotate(-90 50.8 329)">p21 fold induction (RT-MLPA)</text>
<circle cx="87.7" cy="296" r="1.45" fill="#141414"/>
<circle cx="96" cy="294.3" r="1.45" fill="#141414"/>
<circle cx="94.5" cy="310.6" r="1.45" fill="#fff" stroke="#141414" stroke-width="1.23"/>
<circle cx="88.5" cy="314.7" r="1.45" fill="#5a8a40"/>
<circle cx="86.2" cy="322.2" r="1.45" fill="#141414"/>
<circle cx="91" cy="320.5" r="1.45" fill="#141414"/>
<circle cx="92.6" cy="345.1" r="1.45" fill="#fff" stroke="#141414" stroke-width="1.23"/>
<circle cx="104.2" cy="348.2" r="1.45" fill="#fff" stroke="#141414" stroke-width="1.23"/>
<circle cx="107.5" cy="347" r="1.45" fill="#5a8a40"/>
<circle cx="106.5" cy="354.2" r="1.45" fill="#fff" stroke="#141414" stroke-width="1.23"/>
<circle cx="98.8" cy="368.3" r="1.45" fill="#fff" stroke="#141414" stroke-width="1.23"/>
<circle cx="116.2" cy="362" r="1.45" fill="#141414"/>
<circle cx="123.5" cy="369.3" r="1.45" fill="#b0141f"/>
<circle cx="126.2" cy="369.9" r="1.45" fill="#5a8a40"/>
<circle cx="129.5" cy="361.8" r="1.45" fill="#b0141f"/>
<circle cx="133.8" cy="366.2" r="1.45" fill="#b0141f"/>
<circle cx="139.6" cy="366.6" r="1.45" fill="#5a8a40"/>
<circle cx="159.1" cy="366.5" r="1.45" fill="#b0141f"/>
<path d="M198.7 285.7 V377.4" fill="none" stroke="#2a2a2a" stroke-width="0.8"/>
<path d="M196.7 377.4H198.7" stroke="#2a2a2a" stroke-width="0.7"/>
<text x="196.39999999999998" y="379.0" font-size="4.8" text-anchor="end" font-weight="bold" fill="#333" stroke="#333" stroke-width="0.15">0.0</text>
<path d="M196.7 365.94H198.7" stroke="#2a2a2a" stroke-width="0.7"/>
<text x="196.39999999999998" y="367.54" font-size="4.8" text-anchor="end" font-weight="bold" fill="#333" stroke="#333" stroke-width="0.15">0.5</text>
<path d="M196.7 354.47999999999996H198.7" stroke="#2a2a2a" stroke-width="0.7"/>
<text x="196.39999999999998" y="356.08" font-size="4.8" text-anchor="end" font-weight="bold" fill="#333" stroke="#333" stroke-width="0.15">1.0</text>
<path d="M196.7 343.02H198.7" stroke="#2a2a2a" stroke-width="0.7"/>
<text x="196.39999999999998" y="344.62" font-size="4.8" text-anchor="end" font-weight="bold" fill="#333" stroke="#333" stroke-width="0.15">1.5</text>
<path d="M196.7 331.55999999999995H198.7" stroke="#2a2a2a" stroke-width="0.7"/>
<text x="196.39999999999998" y="333.15999999999997" font-size="4.8" text-anchor="end" font-weight="bold" fill="#333" stroke="#333" stroke-width="0.15">2.0</text>
<path d="M196.7 320.09999999999997H198.7" stroke="#2a2a2a" stroke-width="0.7"/>
<text x="196.39999999999998" y="321.7" font-size="4.8" text-anchor="end" font-weight="bold" fill="#333" stroke="#333" stroke-width="0.15">2.5</text>
<path d="M196.7 308.64H198.7" stroke="#2a2a2a" stroke-width="0.7"/>
<text x="196.39999999999998" y="310.24" font-size="4.8" text-anchor="end" font-weight="bold" fill="#333" stroke="#333" stroke-width="0.15">3.0</text>
<path d="M196.7 297.17999999999995H198.7" stroke="#2a2a2a" stroke-width="0.7"/>
<text x="196.39999999999998" y="298.78" font-size="4.8" text-anchor="end" font-weight="bold" fill="#333" stroke="#333" stroke-width="0.15">3.5</text>
<path d="M196.7 285.71999999999997H198.7" stroke="#2a2a2a" stroke-width="0.7"/>
<text x="196.39999999999998" y="287.32" font-size="4.8" text-anchor="end" font-weight="bold" fill="#333" stroke="#333" stroke-width="0.15">4.0</text>
<path d="M198.7 377.4 H288.6 M291.8 377.4 H308.2" fill="none" stroke="#2a2a2a" stroke-width="0.8"/>
<path d="M201.0 377.4V379.2" stroke="#2a2a2a" stroke-width="0.7"/>
<text x="201.0" y="384.4" font-size="4.8" text-anchor="middle" font-weight="bold" fill="#333" stroke="#333" stroke-width="0.15">25</text>
<path d="M212.7 377.4V379.2" stroke="#2a2a2a" stroke-width="0.7"/>
<text x="212.7" y="384.4" font-size="4.8" text-anchor="middle" font-weight="bold" fill="#333" stroke="#333" stroke-width="0.15">50</text>
<path d="M224.4 377.4V379.2" stroke="#2a2a2a" stroke-width="0.7"/>
<text x="224.4" y="384.4" font-size="4.8" text-anchor="middle" font-weight="bold" fill="#333" stroke="#333" stroke-width="0.15">75</text>
<path d="M236.2 377.4V379.2" stroke="#2a2a2a" stroke-width="0.7"/>
<text x="236.2" y="384.4" font-size="4.8" text-anchor="middle" font-weight="bold" fill="#333" stroke="#333" stroke-width="0.15">100</text>
<path d="M247.9 377.4V379.2" stroke="#2a2a2a" stroke-width="0.7"/>
<text x="247.9" y="384.4" font-size="4.8" text-anchor="middle" font-weight="bold" fill="#333" stroke="#333" stroke-width="0.15">125</text>
<path d="M259.6 377.4V379.2" stroke="#2a2a2a" stroke-width="0.7"/>
<text x="259.6" y="384.4" font-size="4.8" text-anchor="middle" font-weight="bold" fill="#333" stroke="#333" stroke-width="0.15">150</text>
<path d="M271.3 377.4V379.2" stroke="#2a2a2a" stroke-width="0.7"/>
<text x="271.3" y="384.4" font-size="4.8" text-anchor="middle" font-weight="bold" fill="#333" stroke="#333" stroke-width="0.15">175</text>
<path d="M283.0 377.4V379.2" stroke="#2a2a2a" stroke-width="0.7"/>
<text x="283.0" y="384.4" font-size="4.8" text-anchor="middle" font-weight="bold" fill="#333" stroke="#333" stroke-width="0.15">200</text>
<path d="M296.2 377.4V379.2" stroke="#2a2a2a" stroke-width="0.7"/>
<text x="296.2" y="384.4" font-size="4.8" text-anchor="middle" font-weight="bold" fill="#333" stroke="#333" stroke-width="0.15">400</text>
<path d="M308.2 377.4V379.2" stroke="#2a2a2a" stroke-width="0.7"/>
<text x="308.2" y="384.4" font-size="4.8" text-anchor="middle" font-weight="bold" fill="#333" stroke="#333" stroke-width="0.15">600</text>
<text x="253.5" y="390.9" font-size="5.6" text-anchor="middle" font-weight="bold" fill="#222" stroke="#222" stroke-width="0.15" textLength="45.2" lengthAdjust="spacingAndGlyphs">p53 basal level (%)</text>
<text x="186.0" y="330.4" font-size="5.6" text-anchor="middle" font-weight="bold" fill="#222" stroke="#222" stroke-width="0.15" textLength="69" lengthAdjust="spacingAndGlyphs" transform="rotate(-90 186.0 330.4)">Bax fold induction (RT-MLPA)</text>
<circle cx="221.5" cy="304.4" r="1.45" fill="#5a8a40"/>
<circle cx="224.1" cy="315" r="1.45" fill="#141414"/>
<circle cx="219.4" cy="324.8" r="1.45" fill="#141414"/>
<circle cx="220.9" cy="326.8" r="1.45" fill="#141414"/>
<circle cx="225.5" cy="323.4" r="1.45" fill="#fff" stroke="#141414" stroke-width="1.23"/>
<circle cx="229.2" cy="321.1" r="1.45" fill="#141414"/>
<circle cx="237.2" cy="323.2" r="1.45" fill="#fff" stroke="#141414" stroke-width="1.23"/>
<circle cx="240.8" cy="327.5" r="1.45" fill="#5a8a40"/>
<circle cx="239.8" cy="331.5" r="1.45" fill="#fff" stroke="#141414" stroke-width="1.23"/>
<circle cx="227.6" cy="333.4" r="1.45" fill="#fff" stroke="#141414" stroke-width="1.23"/>
<circle cx="232" cy="337" r="1.45" fill="#fff" stroke="#141414" stroke-width="1.23"/>
<circle cx="249.4" cy="334.3" r="1.45" fill="#141414"/>
<circle cx="256.9" cy="350.8" r="1.45" fill="#b0141f"/>
<circle cx="259.2" cy="349.8" r="1.45" fill="#5a8a40"/>
<circle cx="262.7" cy="350.2" r="1.45" fill="#b0141f"/>
<circle cx="267.1" cy="350.5" r="1.45" fill="#b0141f"/>
<circle cx="273" cy="345.1" r="1.45" fill="#5a8a40"/>
<circle cx="292.7" cy="341.8" r="1.45" fill="#b0141f"/>
<path d="M330 282.7 V377.0" fill="none" stroke="#2a2a2a" stroke-width="0.8"/>
<path d="M328 377.0H330" stroke="#2a2a2a" stroke-width="0.7"/>
<text x="327.7" y="378.6" font-size="4.8" text-anchor="end" font-weight="bold" fill="#333" stroke="#333" stroke-width="0.15">0</text>
<path d="M328 361.28H330" stroke="#2a2a2a" stroke-width="0.7"/>
<text x="327.7" y="362.88" font-size="4.8" text-anchor="end" font-weight="bold" fill="#333" stroke="#333" stroke-width="0.15">1</text>
<path d="M328 345.56H330" stroke="#2a2a2a" stroke-width="0.7"/>
<text x="327.7" y="347.16" font-size="4.8" text-anchor="end" font-weight="bold" fill="#333" stroke="#333" stroke-width="0.15">2</text>
<path d="M328 329.84H330" stroke="#2a2a2a" stroke-width="0.7"/>
<text x="327.7" y="331.44" font-size="4.8" text-anchor="end" font-weight="bold" fill="#333" stroke="#333" stroke-width="0.15">3</text>
<path d="M328 314.12H330" stroke="#2a2a2a" stroke-width="0.7"/>
<text x="327.7" y="315.72" font-size="4.8" text-anchor="end" font-weight="bold" fill="#333" stroke="#333" stroke-width="0.15">4</text>
<path d="M328 298.4H330" stroke="#2a2a2a" stroke-width="0.7"/>
<text x="327.7" y="300.0" font-size="4.8" text-anchor="end" font-weight="bold" fill="#333" stroke="#333" stroke-width="0.15">5</text>
<path d="M328 282.68H330" stroke="#2a2a2a" stroke-width="0.7"/>
<text x="327.7" y="284.28000000000003" font-size="4.8" text-anchor="end" font-weight="bold" fill="#333" stroke="#333" stroke-width="0.15">6</text>
<path d="M330 377.0 H421.8 M425 377.0 H442.5" fill="none" stroke="#2a2a2a" stroke-width="0.8"/>
<path d="M331.3 377.0V378.8" stroke="#2a2a2a" stroke-width="0.7"/>
<text x="331.3" y="384.0" font-size="4.8" text-anchor="middle" font-weight="bold" fill="#333" stroke="#333" stroke-width="0.15">25</text>
<path d="M343.2 377.0V378.8" stroke="#2a2a2a" stroke-width="0.7"/>
<text x="343.2" y="384.0" font-size="4.8" text-anchor="middle" font-weight="bold" fill="#333" stroke="#333" stroke-width="0.15">50</text>
<path d="M355.2 377.0V378.8" stroke="#2a2a2a" stroke-width="0.7"/>
<text x="355.2" y="384.0" font-size="4.8" text-anchor="middle" font-weight="bold" fill="#333" stroke="#333" stroke-width="0.15">75</text>
<path d="M367.1 377.0V378.8" stroke="#2a2a2a" stroke-width="0.7"/>
<text x="367.1" y="384.0" font-size="4.8" text-anchor="middle" font-weight="bold" fill="#333" stroke="#333" stroke-width="0.15">100</text>
<path d="M379.0 377.0V378.8" stroke="#2a2a2a" stroke-width="0.7"/>
<text x="379.0" y="384.0" font-size="4.8" text-anchor="middle" font-weight="bold" fill="#333" stroke="#333" stroke-width="0.15">125</text>
<path d="M390.9 377.0V378.8" stroke="#2a2a2a" stroke-width="0.7"/>
<text x="390.9" y="384.0" font-size="4.8" text-anchor="middle" font-weight="bold" fill="#333" stroke="#333" stroke-width="0.15">150</text>
<path d="M402.9 377.0V378.8" stroke="#2a2a2a" stroke-width="0.7"/>
<text x="402.9" y="384.0" font-size="4.8" text-anchor="middle" font-weight="bold" fill="#333" stroke="#333" stroke-width="0.15">175</text>
<path d="M414.8 377.0V378.8" stroke="#2a2a2a" stroke-width="0.7"/>
<text x="414.8" y="384.0" font-size="4.8" text-anchor="middle" font-weight="bold" fill="#333" stroke="#333" stroke-width="0.15">200</text>
<path d="M429 377.0V378.8" stroke="#2a2a2a" stroke-width="0.7"/>
<text x="429" y="384.0" font-size="4.8" text-anchor="middle" font-weight="bold" fill="#333" stroke="#333" stroke-width="0.15">400</text>
<path d="M442.5 377.0V378.8" stroke="#2a2a2a" stroke-width="0.7"/>
<text x="442.5" y="384.0" font-size="4.8" text-anchor="middle" font-weight="bold" fill="#333" stroke="#333" stroke-width="0.15">600</text>
<text x="385.3" y="390.9" font-size="5.6" text-anchor="middle" font-weight="bold" fill="#222" stroke="#222" stroke-width="0.15" textLength="45.2" lengthAdjust="spacingAndGlyphs">p53 basal level (%)</text>
<text x="319.3" y="328.4" font-size="5.6" text-anchor="middle" font-weight="bold" fill="#222" stroke="#222" stroke-width="0.15" textLength="72.7" lengthAdjust="spacingAndGlyphs" transform="rotate(-90 319.3 328.4)">Puma fold induction (RT-MLPA)</text>
<circle cx="360.9" cy="291" r="1.45" fill="#141414"/>
<circle cx="352.8" cy="309.8" r="1.45" fill="#5a8a40"/>
<circle cx="350.4" cy="311.2" r="1.45" fill="#141414"/>
<circle cx="355.8" cy="314.4" r="1.45" fill="#141414"/>
<circle cx="372.5" cy="318.5" r="1.45" fill="#5a8a40"/>
<circle cx="363.1" cy="327.3" r="1.45" fill="#fff" stroke="#141414" stroke-width="1.23"/>
<circle cx="369" cy="327.3" r="1.45" fill="#fff" stroke="#141414" stroke-width="1.23"/>
<circle cx="352.3" cy="338.4" r="1.45" fill="#141414"/>
<circle cx="381.4" cy="338.7" r="1.45" fill="#141414"/>
<circle cx="359.6" cy="344.9" r="1.45" fill="#fff" stroke="#141414" stroke-width="1.23"/>
<circle cx="371.7" cy="344.9" r="1.45" fill="#fff" stroke="#141414" stroke-width="1.23"/>
<circle cx="357.2" cy="350.2" r="1.45" fill="#fff" stroke="#141414" stroke-width="1.23"/>
<circle cx="389.5" cy="358.3" r="1.45" fill="#b0141f"/>
<circle cx="391.4" cy="359.7" r="1.45" fill="#5a8a40"/>
<circle cx="395.4" cy="360.2" r="1.45" fill="#b0141f"/>
<circle cx="399.4" cy="362.1" r="1.45" fill="#b0141f"/>
<circle cx="405.6" cy="361.5" r="1.45" fill="#5a8a40"/>
<circle cx="425.8" cy="340.5" r="1.45" fill="#b0141f"/>
<rect x="386.3" y="262.7" width="86.4" height="49.6" fill="#fff" stroke="#555" stroke-width="0.7"/>
<circle cx="393" cy="268.8" r="2.2" fill="#d6141f"/>
<text x="401.2" y="270.92400000000004" font-size="5.9" text-anchor="start" font-weight="bold" fill="#111" stroke="#111" stroke-width="0.15" textLength="32.3" lengthAdjust="spacingAndGlyphs">17p deletion</text>
<circle cx="393" cy="279.2" r="2.2" fill="#6fb842"/>
<text x="401.2" y="281.324" font-size="5.9" text-anchor="start" font-weight="bold" fill="#111" stroke="#111" stroke-width="0.15" textLength="51" lengthAdjust="spacingAndGlyphs">sole <tspan font-style="italic">TP53</tspan> mutation</text>
<circle cx="393" cy="289.9" r="2.2" fill="#141414"/>
<text x="401.2" y="292.024" font-size="5.9" text-anchor="start" font-weight="bold" fill="#111" stroke="#111" stroke-width="0.15" textLength="53.5" lengthAdjust="spacingAndGlyphs">no 17p deletion, 11q</text>
<text x="401.2" y="298.324" font-size="5.9" text-anchor="start" font-weight="bold" fill="#111" stroke="#111" stroke-width="0.15" textLength="68.3" lengthAdjust="spacingAndGlyphs">deletion or <tspan font-style="italic">TP53</tspan> mutation</text>
<circle cx="393" cy="306.6" r="1.87" fill="#fff" stroke="#141414" stroke-width="0.88"/>
<text x="401.2" y="308.72400000000005" font-size="5.9" text-anchor="start" font-weight="bold" fill="#111" stroke="#111" stroke-width="0.15" textLength="32.3" lengthAdjust="spacingAndGlyphs">11q deletion</text>
<path d="M15.6 414.9 V501.9" fill="none" stroke="#2a2a2a" stroke-width="0.8"/>
<path d="M13.6 489.5H15.6" stroke="#2a2a2a" stroke-width="0.7"/>
<text x="13.3" y="491.1" font-size="3.9" text-anchor="end" font-weight="bold" fill="#333" stroke="#333" stroke-width="0.1">0</text>
<path d="M13.6 477.1H15.6" stroke="#2a2a2a" stroke-width="0.7"/>
<text x="13.3" y="478.70000000000005" font-size="3.9" text-anchor="end" font-weight="bold" fill="#333" stroke="#333" stroke-width="0.1">50</text>
<path d="M13.6 464.7H15.6" stroke="#2a2a2a" stroke-width="0.7"/>
<text x="13.3" y="466.3" font-size="3.9" text-anchor="end" font-weight="bold" fill="#333" stroke="#333" stroke-width="0.1">100</text>
<path d="M13.6 452.3H15.6" stroke="#2a2a2a" stroke-width="0.7"/>
<text x="13.3" y="453.90000000000003" font-size="3.9" text-anchor="end" font-weight="bold" fill="#333" stroke="#333" stroke-width="0.1">150</text>
<path d="M13.6 439.9H15.6" stroke="#2a2a2a" stroke-width="0.7"/>
<text x="13.3" y="441.5" font-size="3.9" text-anchor="end" font-weight="bold" fill="#333" stroke="#333" stroke-width="0.1">200</text>
<path d="M13.6 427.5H15.6" stroke="#2a2a2a" stroke-width="0.7"/>
<text x="13.3" y="429.1" font-size="3.9" text-anchor="end" font-weight="bold" fill="#333" stroke="#333" stroke-width="0.1">250</text>
<path d="M13.6 415.1H15.6" stroke="#2a2a2a" stroke-width="0.7"/>
<text x="13.3" y="416.70000000000005" font-size="3.9" text-anchor="end" font-weight="bold" fill="#333" stroke="#333" stroke-width="0.1">300</text>
<path d="M15.6 501.9 H101.6 M103.1 501.9 H116.9" fill="none" stroke="#2a2a2a" stroke-width="0.8"/>
<path d="M17.5 501.9V503.7" stroke="#2a2a2a" stroke-width="0.7"/>
<text x="17.5" y="507.79999999999995" font-size="3.9" text-anchor="middle" font-weight="bold" fill="#333" stroke="#333" stroke-width="0.1">25</text>
<path d="M28.9 501.9V503.7" stroke="#2a2a2a" stroke-width="0.7"/>
<text x="28.9" y="507.79999999999995" font-size="3.9" text-anchor="middle" font-weight="bold" fill="#333" stroke="#333" stroke-width="0.1">50</text>
<path d="M40.4 501.9V503.7" stroke="#2a2a2a" stroke-width="0.7"/>
<text x="40.4" y="507.79999999999995" font-size="3.9" text-anchor="middle" font-weight="bold" fill="#333" stroke="#333" stroke-width="0.1">75</text>
<path d="M51.8 501.9V503.7" stroke="#2a2a2a" stroke-width="0.7"/>
<text x="51.8" y="507.79999999999995" font-size="3.9" text-anchor="middle" font-weight="bold" fill="#333" stroke="#333" stroke-width="0.1">100</text>
<path d="M63.2 501.9V503.7" stroke="#2a2a2a" stroke-width="0.7"/>
<text x="63.2" y="507.79999999999995" font-size="3.9" text-anchor="middle" font-weight="bold" fill="#333" stroke="#333" stroke-width="0.1">125</text>
<path d="M74.7 501.9V503.7" stroke="#2a2a2a" stroke-width="0.7"/>
<text x="74.7" y="507.79999999999995" font-size="3.9" text-anchor="middle" font-weight="bold" fill="#333" stroke="#333" stroke-width="0.1">150</text>
<path d="M86.1 501.9V503.7" stroke="#2a2a2a" stroke-width="0.7"/>
<text x="86.1" y="507.79999999999995" font-size="3.9" text-anchor="middle" font-weight="bold" fill="#333" stroke="#333" stroke-width="0.1">175</text>
<path d="M97.5 501.9V503.7" stroke="#2a2a2a" stroke-width="0.7"/>
<text x="97.5" y="507.79999999999995" font-size="3.9" text-anchor="middle" font-weight="bold" fill="#333" stroke="#333" stroke-width="0.1">200</text>
<path d="M106.3 501.9V503.7" stroke="#2a2a2a" stroke-width="0.7"/>
<text x="106.3" y="507.79999999999995" font-size="3.9" text-anchor="middle" font-weight="bold" fill="#333" stroke="#333" stroke-width="0.1">400</text>
<path d="M114.8 501.9V503.7" stroke="#2a2a2a" stroke-width="0.7"/>
<text x="114.8" y="507.79999999999995" font-size="3.9" text-anchor="middle" font-weight="bold" fill="#333" stroke="#333" stroke-width="0.1">600</text>
<text x="66.9" y="513.0" font-size="4.6" text-anchor="middle" font-weight="bold" fill="#222" stroke="#222" stroke-width="0.15" textLength="36.3" lengthAdjust="spacingAndGlyphs">p53 basal level (%)</text>
<text x="3.9" y="456.7" font-size="4.6" text-anchor="middle" font-weight="bold" fill="#222" stroke="#222" stroke-width="0.15" textLength="44.6" lengthAdjust="spacingAndGlyphs" transform="rotate(-90 3.9 456.7)">miR-34a basal expression</text>
<circle cx="30.9" cy="447.8" r="1.15" fill="#141414"/>
<circle cx="38.2" cy="421.4" r="1.15" fill="#141414"/>
<circle cx="47" cy="424.9" r="1.15" fill="#707070" stroke="#141414" stroke-width="0.98"/>
<circle cx="35.3" cy="457.2" r="1.15" fill="#141414"/>
<circle cx="39.4" cy="457.4" r="1.15" fill="#707070" stroke="#141414" stroke-width="0.98"/>
<circle cx="38.8" cy="460" r="1.15" fill="#141414"/>
<circle cx="33.6" cy="462.7" r="1.15" fill="#141414"/>
<circle cx="32.1" cy="464.8" r="1.15" fill="#141414"/>
<circle cx="35.7" cy="465.6" r="1.15" fill="#141414"/>
<circle cx="45" cy="468.8" r="1.15" fill="#141414"/>
<circle cx="28" cy="472" r="1.15" fill="#141414"/>
<circle cx="34.5" cy="470.5" r="1.15" fill="#141414"/>
<circle cx="37.1" cy="473.1" r="1.15" fill="#707070" stroke="#141414" stroke-width="0.98"/>
<circle cx="30.7" cy="479" r="1.15" fill="#707070" stroke="#141414" stroke-width="0.98"/>
<circle cx="32.5" cy="481" r="1.15" fill="#6f9562"/>
<circle cx="43.5" cy="479" r="1.15" fill="#707070" stroke="#141414" stroke-width="0.98"/>
<circle cx="52.4" cy="480.1" r="1.15" fill="#707070" stroke="#141414" stroke-width="0.98"/>
<circle cx="55.9" cy="476.6" r="1.15" fill="#6f9562"/>
<circle cx="64.1" cy="482.4" r="1.15" fill="#141414"/>
<circle cx="47.6" cy="483.6" r="1.15" fill="#707070" stroke="#141414" stroke-width="0.98"/>
<circle cx="31.5" cy="482.5" r="1.15" fill="#141414"/>
<circle cx="33.5" cy="484.5" r="1.15" fill="#141414"/>
<circle cx="35.5" cy="486.5" r="1.15" fill="#141414"/>
<circle cx="37.5" cy="485" r="1.15" fill="#141414"/>
<circle cx="39.5" cy="487" r="1.15" fill="#141414"/>
<circle cx="41.5" cy="485.5" r="1.15" fill="#141414"/>
<circle cx="43" cy="486.5" r="1.15" fill="#141414"/>
<circle cx="34" cy="487.5" r="1.15" fill="#141414"/>
<circle cx="36.5" cy="483" r="1.15" fill="#6f9562"/>
<circle cx="40.5" cy="483" r="1.15" fill="#141414"/>
<circle cx="29.5" cy="485.5" r="1.15" fill="#141414"/>
<circle cx="38" cy="488" r="1.15" fill="#141414"/>
<circle cx="24.9" cy="489.2" r="1.15" fill="#8e2226"/>
<circle cx="29" cy="488.6" r="1.15" fill="#6f9562"/>
<circle cx="55.1" cy="488.3" r="1.15" fill="#8e2226"/>
<circle cx="56.5" cy="489" r="1.15" fill="#8e2226"/>
<circle cx="58" cy="489.4" r="1.15" fill="#8e2226"/>
<circle cx="73.8" cy="485" r="1.15" fill="#6f9562"/>
<circle cx="86.6" cy="486.9" r="1.15" fill="#6f9562"/>
<circle cx="68.1" cy="489.6" r="1.15" fill="#8e2226"/>
<circle cx="71.9" cy="489.4" r="1.15" fill="#8e2226"/>
<circle cx="76.9" cy="489.4" r="1.15" fill="#8e2226"/>
<circle cx="81" cy="489.6" r="1.15" fill="#8e2226"/>
<circle cx="97.5" cy="489.4" r="1.15" fill="#8e2226"/>
<circle cx="104.8" cy="485.9" r="1.15" fill="#8e2226"/>
<circle cx="106.3" cy="489.4" r="1.15" fill="#8e2226"/>
<circle cx="114" cy="489" r="1.15" fill="#8e2226"/>
<path d="M148.1 415.2 V502.2" fill="none" stroke="#2a2a2a" stroke-width="0.8"/>
<path d="M146.1 489.5H148.1" stroke="#2a2a2a" stroke-width="0.7"/>
<text x="145.79999999999998" y="491.1" font-size="3.9" text-anchor="end" font-weight="bold" fill="#333" stroke="#333" stroke-width="0.1">0</text>
<path d="M146.1 477.15H148.1" stroke="#2a2a2a" stroke-width="0.7"/>
<text x="145.79999999999998" y="478.75" font-size="3.9" text-anchor="end" font-weight="bold" fill="#333" stroke="#333" stroke-width="0.1">50</text>
<path d="M146.1 464.8H148.1" stroke="#2a2a2a" stroke-width="0.7"/>
<text x="145.79999999999998" y="466.40000000000003" font-size="3.9" text-anchor="end" font-weight="bold" fill="#333" stroke="#333" stroke-width="0.1">100</text>
<path d="M146.1 452.45H148.1" stroke="#2a2a2a" stroke-width="0.7"/>
<text x="145.79999999999998" y="454.05" font-size="3.9" text-anchor="end" font-weight="bold" fill="#333" stroke="#333" stroke-width="0.1">150</text>
<path d="M146.1 440.1H148.1" stroke="#2a2a2a" stroke-width="0.7"/>
<text x="145.79999999999998" y="441.70000000000005" font-size="3.9" text-anchor="end" font-weight="bold" fill="#333" stroke="#333" stroke-width="0.1">200</text>
<path d="M146.1 427.75H148.1" stroke="#2a2a2a" stroke-width="0.7"/>
<text x="145.79999999999998" y="429.35" font-size="3.9" text-anchor="end" font-weight="bold" fill="#333" stroke="#333" stroke-width="0.1">250</text>
<path d="M146.1 415.4H148.1" stroke="#2a2a2a" stroke-width="0.7"/>
<text x="145.79999999999998" y="417.0" font-size="3.9" text-anchor="end" font-weight="bold" fill="#333" stroke="#333" stroke-width="0.1">300</text>
<path d="M148.1 502.2 H234.5 M237.1 502.2 H249.2" fill="none" stroke="#2a2a2a" stroke-width="0.8"/>
<path d="M149.0 502.2V504.0" stroke="#2a2a2a" stroke-width="0.7"/>
<text x="149.0" y="508.09999999999997" font-size="3.9" text-anchor="middle" font-weight="bold" fill="#333" stroke="#333" stroke-width="0.1">25</text>
<path d="M160.6 502.2V504.0" stroke="#2a2a2a" stroke-width="0.7"/>
<text x="160.6" y="508.09999999999997" font-size="3.9" text-anchor="middle" font-weight="bold" fill="#333" stroke="#333" stroke-width="0.1">50</text>
<path d="M172.2 502.2V504.0" stroke="#2a2a2a" stroke-width="0.7"/>
<text x="172.2" y="508.09999999999997" font-size="3.9" text-anchor="middle" font-weight="bold" fill="#333" stroke="#333" stroke-width="0.1">75</text>
<path d="M183.8 502.2V504.0" stroke="#2a2a2a" stroke-width="0.7"/>
<text x="183.8" y="508.09999999999997" font-size="3.9" text-anchor="middle" font-weight="bold" fill="#333" stroke="#333" stroke-width="0.1">100</text>
<path d="M195.4 502.2V504.0" stroke="#2a2a2a" stroke-width="0.7"/>
<text x="195.4" y="508.09999999999997" font-size="3.9" text-anchor="middle" font-weight="bold" fill="#333" stroke="#333" stroke-width="0.1">125</text>
<path d="M207.0 502.2V504.0" stroke="#2a2a2a" stroke-width="0.7"/>
<text x="207.0" y="508.09999999999997" font-size="3.9" text-anchor="middle" font-weight="bold" fill="#333" stroke="#333" stroke-width="0.1">150</text>
<path d="M218.6 502.2V504.0" stroke="#2a2a2a" stroke-width="0.7"/>
<text x="218.6" y="508.09999999999997" font-size="3.9" text-anchor="middle" font-weight="bold" fill="#333" stroke="#333" stroke-width="0.1">175</text>
<path d="M230.2 502.2V504.0" stroke="#2a2a2a" stroke-width="0.7"/>
<text x="230.2" y="508.09999999999997" font-size="3.9" text-anchor="middle" font-weight="bold" fill="#333" stroke="#333" stroke-width="0.1">200</text>
<path d="M239 502.2V504.0" stroke="#2a2a2a" stroke-width="0.7"/>
<text x="239" y="508.09999999999997" font-size="3.9" text-anchor="middle" font-weight="bold" fill="#333" stroke="#333" stroke-width="0.1">400</text>
<path d="M247.5 502.2V504.0" stroke="#2a2a2a" stroke-width="0.7"/>
<text x="247.5" y="508.09999999999997" font-size="3.9" text-anchor="middle" font-weight="bold" fill="#333" stroke="#333" stroke-width="0.1">600</text>
<text x="201.9" y="513.0" font-size="4.6" text-anchor="middle" font-weight="bold" fill="#222" stroke="#222" stroke-width="0.15" textLength="36.3" lengthAdjust="spacingAndGlyphs">p53 basal level (%)</text>
<text x="136.2" y="458.4" font-size="4.6" text-anchor="middle" font-weight="bold" fill="#222" stroke="#222" stroke-width="0.15" textLength="46" lengthAdjust="spacingAndGlyphs" transform="rotate(-90 136.2 458.4)">miR-34a expression 5Gy</text>
<circle cx="188.6" cy="416.6" r="1.15" fill="#6f9562"/>
<circle cx="167.9" cy="426.9" r="1.15" fill="#141414"/>
<circle cx="170.5" cy="428.3" r="1.15" fill="#141414"/>
<circle cx="170" cy="429.2" r="1.15" fill="#141414"/>
<circle cx="168.3" cy="430.8" r="1.15" fill="#141414"/>
<circle cx="176.4" cy="431.5" r="1.15" fill="#707070" stroke="#141414" stroke-width="0.98"/>
<circle cx="160.7" cy="439" r="1.15" fill="#141414"/>
<circle cx="165.3" cy="438.5" r="1.15" fill="#141414"/>
<circle cx="169.1" cy="436.6" r="1.15" fill="#141414"/>
<circle cx="172.9" cy="439.3" r="1.15" fill="#141414"/>
<circle cx="167.1" cy="444" r="1.15" fill="#141414"/>
<circle cx="172" cy="445.7" r="1.15" fill="#707070" stroke="#141414" stroke-width="0.98"/>
<circle cx="167.9" cy="449" r="1.15" fill="#141414"/>
<circle cx="167.9" cy="454.8" r="1.15" fill="#141414"/>
<circle cx="166.2" cy="457.6" r="1.15" fill="#141414"/>
<circle cx="168.5" cy="458.7" r="1.15" fill="#141414"/>
<circle cx="163" cy="461.2" r="1.15" fill="#707070" stroke="#141414" stroke-width="0.98"/>
<circle cx="164.4" cy="464.8" r="1.15" fill="#141414"/>
<circle cx="166.3" cy="465.7" r="1.15" fill="#141414"/>
<circle cx="177.6" cy="467.8" r="1.15" fill="#141414"/>
<circle cx="169.7" cy="470.1" r="1.15" fill="#141414"/>
<circle cx="164.8" cy="473.6" r="1.15" fill="#141414"/>
<circle cx="168.6" cy="473.8" r="1.15" fill="#707070" stroke="#141414" stroke-width="0.98"/>
<circle cx="185.1" cy="473.4" r="1.15" fill="#707070" stroke="#141414" stroke-width="0.98"/>
<circle cx="196.7" cy="475.9" r="1.15" fill="#141414"/>
<circle cx="164" cy="479.4" r="1.15" fill="#141414"/>
<circle cx="166.9" cy="479.4" r="1.15" fill="#6f9562"/>
<circle cx="174.3" cy="480" r="1.15" fill="#707070" stroke="#141414" stroke-width="0.98"/>
<circle cx="175.5" cy="478.3" r="1.15" fill="#141414"/>
<circle cx="179.9" cy="481.5" r="1.15" fill="#707070" stroke="#141414" stroke-width="0.98"/>
<circle cx="170.9" cy="483.3" r="1.15" fill="#6f9562"/>
<circle cx="161.6" cy="485.2" r="1.15" fill="#6f9562"/>
<circle cx="157.6" cy="489" r="1.15" fill="#8e2226"/>
<circle cx="187.8" cy="489" r="1.15" fill="#707070" stroke="#141414" stroke-width="0.98"/>
<circle cx="188.6" cy="487" r="1.15" fill="#8e2226"/>
<circle cx="190" cy="487" r="1.15" fill="#8e2226"/>
<circle cx="191.5" cy="487" r="1.15" fill="#8e2226"/>
<circle cx="206.3" cy="482.9" r="1.15" fill="#6f9562"/>
<circle cx="219.7" cy="485.5" r="1.15" fill="#6f9562"/>
<circle cx="201.4" cy="489.3" r="1.15" fill="#8e2226"/>
<circle cx="204.3" cy="489" r="1.15" fill="#8e2226"/>
<circle cx="209.5" cy="489" r="1.15" fill="#8e2226"/>
<circle cx="213.6" cy="489.3" r="1.15" fill="#8e2226"/>
<circle cx="230.2" cy="488.7" r="1.15" fill="#8e2226"/>
<circle cx="237.4" cy="487" r="1.15" fill="#8e2226"/>
<circle cx="239" cy="489.3" r="1.15" fill="#8e2226"/>
<circle cx="247" cy="486.6" r="1.15" fill="#8e2226"/>
<rect x="190.3" y="426.3" width="59.5" height="34.3" fill="#fff" stroke="#555" stroke-width="0.6"/>
<circle cx="194.9" cy="430.9" r="1.6" fill="#d6141f"/>
<text x="200.1" y="432.52" font-size="4.5" text-anchor="start" font-weight="bold" fill="#111" stroke="#111" stroke-width="0.15" textLength="22.5" lengthAdjust="spacingAndGlyphs">17p deletion</text>
<circle cx="194.9" cy="437.7" r="1.6" fill="#6fb842"/>
<text x="200.1" y="439.32" font-size="4.5" text-anchor="start" font-weight="bold" fill="#111" stroke="#111" stroke-width="0.15" textLength="35.6" lengthAdjust="spacingAndGlyphs">sole TP53 mutation</text>
<circle cx="194.9" cy="445.1" r="1.6" fill="#141414"/>
<text x="200.1" y="446.72" font-size="4.5" text-anchor="start" font-weight="bold" fill="#111" stroke="#111" stroke-width="0.15" textLength="36.6" lengthAdjust="spacingAndGlyphs">no 17p deletion, 11q</text>
<text x="200.1" y="451.12" font-size="4.5" text-anchor="start" font-weight="bold" fill="#111" stroke="#111" stroke-width="0.15" textLength="47.1" lengthAdjust="spacingAndGlyphs">deletion or TP53 mutation</text>
<circle cx="194.9" cy="456.6" r="1.36" fill="#fff" stroke="#141414" stroke-width="0.64"/>
<text x="200.1" y="458.22" font-size="4.5" text-anchor="start" font-weight="bold" fill="#111" stroke="#111" stroke-width="0.15" textLength="22.8" lengthAdjust="spacingAndGlyphs">11q deletion</text>
<path d="M282.4 414.9 V501.7" fill="none" stroke="#2a2a2a" stroke-width="0.8"/>
<path d="M280.4 492.7H282.4" stroke="#2a2a2a" stroke-width="0.7"/>
<text x="280.09999999999997" y="494.3" font-size="3.9" text-anchor="end" font-weight="bold" fill="#333" stroke="#333" stroke-width="0.1">0</text>
<path d="M280.4 473.25H282.4" stroke="#2a2a2a" stroke-width="0.7"/>
<text x="280.09999999999997" y="474.85" font-size="3.9" text-anchor="end" font-weight="bold" fill="#333" stroke="#333" stroke-width="0.1">100</text>
<path d="M280.4 453.8H282.4" stroke="#2a2a2a" stroke-width="0.7"/>
<text x="280.09999999999997" y="455.40000000000003" font-size="3.9" text-anchor="end" font-weight="bold" fill="#333" stroke="#333" stroke-width="0.1">200</text>
<path d="M280.4 434.35H282.4" stroke="#2a2a2a" stroke-width="0.7"/>
<text x="280.09999999999997" y="435.95000000000005" font-size="3.9" text-anchor="end" font-weight="bold" fill="#333" stroke="#333" stroke-width="0.1">300</text>
<path d="M280.4 414.9H282.4" stroke="#2a2a2a" stroke-width="0.7"/>
<text x="280.09999999999997" y="416.5" font-size="3.9" text-anchor="end" font-weight="bold" fill="#333" stroke="#333" stroke-width="0.1">400</text>
<path d="M282.4 501.7 H368.9 M370.8 501.7 H383.4" fill="none" stroke="#2a2a2a" stroke-width="0.8"/>
<path d="M284.4 501.7V503.5" stroke="#2a2a2a" stroke-width="0.7"/>
<text x="284.4" y="507.59999999999997" font-size="3.9" text-anchor="middle" font-weight="bold" fill="#333" stroke="#333" stroke-width="0.1">25</text>
<path d="M295.7 501.7V503.5" stroke="#2a2a2a" stroke-width="0.7"/>
<text x="295.7" y="507.59999999999997" font-size="3.9" text-anchor="middle" font-weight="bold" fill="#333" stroke="#333" stroke-width="0.1">50</text>
<path d="M307.0 501.7V503.5" stroke="#2a2a2a" stroke-width="0.7"/>
<text x="307.0" y="507.59999999999997" font-size="3.9" text-anchor="middle" font-weight="bold" fill="#333" stroke="#333" stroke-width="0.1">75</text>
<path d="M318.3 501.7V503.5" stroke="#2a2a2a" stroke-width="0.7"/>
<text x="318.3" y="507.59999999999997" font-size="3.9" text-anchor="middle" font-weight="bold" fill="#333" stroke="#333" stroke-width="0.1">100</text>
<path d="M329.6 501.7V503.5" stroke="#2a2a2a" stroke-width="0.7"/>
<text x="329.6" y="507.59999999999997" font-size="3.9" text-anchor="middle" font-weight="bold" fill="#333" stroke="#333" stroke-width="0.1">125</text>
<path d="M340.9 501.7V503.5" stroke="#2a2a2a" stroke-width="0.7"/>
<text x="340.9" y="507.59999999999997" font-size="3.9" text-anchor="middle" font-weight="bold" fill="#333" stroke="#333" stroke-width="0.1">150</text>
<path d="M352.2 501.7V503.5" stroke="#2a2a2a" stroke-width="0.7"/>
<text x="352.2" y="507.59999999999997" font-size="3.9" text-anchor="middle" font-weight="bold" fill="#333" stroke="#333" stroke-width="0.1">175</text>
<path d="M363.5 501.7V503.5" stroke="#2a2a2a" stroke-width="0.7"/>
<text x="363.5" y="507.59999999999997" font-size="3.9" text-anchor="middle" font-weight="bold" fill="#333" stroke="#333" stroke-width="0.1">200</text>
<path d="M373.5 501.7V503.5" stroke="#2a2a2a" stroke-width="0.7"/>
<text x="373.5" y="507.59999999999997" font-size="3.9" text-anchor="middle" font-weight="bold" fill="#333" stroke="#333" stroke-width="0.1">400</text>
<path d="M382 501.7V503.5" stroke="#2a2a2a" stroke-width="0.7"/>
<text x="382" y="507.59999999999997" font-size="3.9" text-anchor="middle" font-weight="bold" fill="#333" stroke="#333" stroke-width="0.1">600</text>
<text x="333" y="513.2" font-size="4.6" text-anchor="middle" font-weight="bold" fill="#222" stroke="#222" stroke-width="0.15" textLength="36.3" lengthAdjust="spacingAndGlyphs">p53 basal level (%)</text>
<text x="270.7" y="461.3" font-size="4.6" text-anchor="middle" font-weight="bold" fill="#222" stroke="#222" stroke-width="0.15" textLength="44.6" lengthAdjust="spacingAndGlyphs" transform="rotate(-90 270.7 461.3)">miR-34a basal expression</text>
<circle cx="296.6" cy="431.7" r="1.15" fill="#141414"/>
<circle cx="312.3" cy="429.7" r="1.15" fill="#707070" stroke="#141414" stroke-width="0.98"/>
<circle cx="290.2" cy="452.4" r="1.15" fill="#141414"/>
<circle cx="299.5" cy="453.5" r="1.15" fill="#707070" stroke="#141414" stroke-width="0.98"/>
<circle cx="315.4" cy="454.1" r="1.15" fill="#707070" stroke="#141414" stroke-width="0.98"/>
<circle cx="306.2" cy="469.5" r="1.15" fill="#141414"/>
<circle cx="302.1" cy="475.3" r="1.15" fill="#707070" stroke="#141414" stroke-width="0.98"/>
<circle cx="303.8" cy="475.7" r="1.15" fill="#707070" stroke="#141414" stroke-width="0.98"/>
<circle cx="296.9" cy="480" r="1.15" fill="#141414"/>
<circle cx="307" cy="479.4" r="1.15" fill="#141414"/>
<circle cx="307.9" cy="478.3" r="1.15" fill="#141414"/>
<circle cx="317" cy="480.3" r="1.15" fill="#141414"/>
<circle cx="320.9" cy="477.7" r="1.15" fill="#6f9562"/>
<circle cx="292.8" cy="481.7" r="1.15" fill="#141414"/>
<circle cx="292.8" cy="485.8" r="1.15" fill="#141414"/>
<circle cx="300.9" cy="482.9" r="1.15" fill="#141414"/>
<circle cx="301.5" cy="485" r="1.15" fill="#141414"/>
<circle cx="302.1" cy="487" r="1.15" fill="#141414"/>
<circle cx="304.7" cy="487.3" r="1.15" fill="#707070" stroke="#141414" stroke-width="0.98"/>
<circle cx="297.4" cy="488.7" r="1.15" fill="#141414"/>
<circle cx="300.7" cy="490.5" r="1.15" fill="#707070" stroke="#141414" stroke-width="0.98"/>
<circle cx="295.7" cy="491" r="1.15" fill="#141414"/>
<circle cx="297.2" cy="492.2" r="1.15" fill="#141414"/>
<circle cx="290.7" cy="492" r="1.15" fill="#141414"/>
<circle cx="303.8" cy="492.2" r="1.15" fill="#141414"/>
<circle cx="308.8" cy="489" r="1.15" fill="#8e2226"/>
<circle cx="308.5" cy="492" r="1.15" fill="#8e2226"/>
<circle cx="314.3" cy="489.3" r="1.15" fill="#707070" stroke="#141414" stroke-width="0.98"/>
<circle cx="330" cy="491.8" r="1.15" fill="#8e2226"/>
<circle cx="346.6" cy="490.8" r="1.15" fill="#8e2226"/>
<circle cx="360.5" cy="491.1" r="1.15" fill="#8e2226"/>
<path d="M414.8 415.2 V502.0" fill="none" stroke="#2a2a2a" stroke-width="0.8"/>
<path d="M412.8 498.6H414.8" stroke="#2a2a2a" stroke-width="0.7"/>
<text x="412.5" y="500.20000000000005" font-size="3.9" text-anchor="end" font-weight="bold" fill="#333" stroke="#333" stroke-width="0.1">0</text>
<path d="M412.8 481.95000000000005H414.8" stroke="#2a2a2a" stroke-width="0.7"/>
<text x="412.5" y="483.55000000000007" font-size="3.9" text-anchor="end" font-weight="bold" fill="#333" stroke="#333" stroke-width="0.1">500</text>
<path d="M412.8 465.3H414.8" stroke="#2a2a2a" stroke-width="0.7"/>
<text x="412.5" y="466.90000000000003" font-size="3.9" text-anchor="end" font-weight="bold" fill="#333" stroke="#333" stroke-width="0.1">1000</text>
<path d="M412.8 448.65000000000003H414.8" stroke="#2a2a2a" stroke-width="0.7"/>
<text x="412.5" y="450.25000000000006" font-size="3.9" text-anchor="end" font-weight="bold" fill="#333" stroke="#333" stroke-width="0.1">1500</text>
<path d="M412.8 432.0H414.8" stroke="#2a2a2a" stroke-width="0.7"/>
<text x="412.5" y="433.6" font-size="3.9" text-anchor="end" font-weight="bold" fill="#333" stroke="#333" stroke-width="0.1">2000</text>
<path d="M412.8 415.35H414.8" stroke="#2a2a2a" stroke-width="0.7"/>
<text x="412.5" y="416.95000000000005" font-size="3.9" text-anchor="end" font-weight="bold" fill="#333" stroke="#333" stroke-width="0.1">2500</text>
<path d="M414.8 502.0 H501 M503 502.0 H515" fill="none" stroke="#2a2a2a" stroke-width="0.8"/>
<path d="M416.7 502.0V503.8" stroke="#2a2a2a" stroke-width="0.7"/>
<text x="416.7" y="507.9" font-size="3.9" text-anchor="middle" font-weight="bold" fill="#333" stroke="#333" stroke-width="0.1">25</text>
<path d="M428.1 502.0V503.8" stroke="#2a2a2a" stroke-width="0.7"/>
<text x="428.1" y="507.9" font-size="3.9" text-anchor="middle" font-weight="bold" fill="#333" stroke="#333" stroke-width="0.1">50</text>
<path d="M439.5 502.0V503.8" stroke="#2a2a2a" stroke-width="0.7"/>
<text x="439.5" y="507.9" font-size="3.9" text-anchor="middle" font-weight="bold" fill="#333" stroke="#333" stroke-width="0.1">75</text>
<path d="M450.9 502.0V503.8" stroke="#2a2a2a" stroke-width="0.7"/>
<text x="450.9" y="507.9" font-size="3.9" text-anchor="middle" font-weight="bold" fill="#333" stroke="#333" stroke-width="0.1">100</text>
<path d="M462.3 502.0V503.8" stroke="#2a2a2a" stroke-width="0.7"/>
<text x="462.3" y="507.9" font-size="3.9" text-anchor="middle" font-weight="bold" fill="#333" stroke="#333" stroke-width="0.1">125</text>
<path d="M473.7 502.0V503.8" stroke="#2a2a2a" stroke-width="0.7"/>
<text x="473.7" y="507.9" font-size="3.9" text-anchor="middle" font-weight="bold" fill="#333" stroke="#333" stroke-width="0.1">150</text>
<path d="M485.1 502.0V503.8" stroke="#2a2a2a" stroke-width="0.7"/>
<text x="485.1" y="507.9" font-size="3.9" text-anchor="middle" font-weight="bold" fill="#333" stroke="#333" stroke-width="0.1">175</text>
<path d="M496.5 502.0V503.8" stroke="#2a2a2a" stroke-width="0.7"/>
<text x="496.5" y="507.9" font-size="3.9" text-anchor="middle" font-weight="bold" fill="#333" stroke="#333" stroke-width="0.1">200</text>
<path d="M505.7 502.0V503.8" stroke="#2a2a2a" stroke-width="0.7"/>
<text x="505.7" y="507.9" font-size="3.9" text-anchor="middle" font-weight="bold" fill="#333" stroke="#333" stroke-width="0.1">400</text>
<path d="M513 502.0V503.8" stroke="#2a2a2a" stroke-width="0.7"/>
<text x="513" y="507.9" font-size="3.9" text-anchor="middle" font-weight="bold" fill="#333" stroke="#333" stroke-width="0.1">600</text>
<text x="464.5" y="513.2" font-size="4.6" text-anchor="middle" font-weight="bold" fill="#222" stroke="#222" stroke-width="0.15" textLength="36.3" lengthAdjust="spacingAndGlyphs">p53 basal level (%)</text>
<text x="402.4" y="460.8" font-size="4.6" text-anchor="middle" font-weight="bold" fill="#222" stroke="#222" stroke-width="0.15" textLength="43.7" lengthAdjust="spacingAndGlyphs" transform="rotate(-90 402.4 460.8)">miR-34a expression 5Gy</text>
<circle cx="440.5" cy="428.6" r="1.15" fill="#707070" stroke="#141414" stroke-width="0.98"/>
<circle cx="448.4" cy="433.1" r="1.15" fill="#141414"/>
<circle cx="449" cy="439.9" r="1.15" fill="#141414"/>
<circle cx="433.5" cy="444.5" r="1.15" fill="#141414"/>
<circle cx="448" cy="457.3" r="1.15" fill="#707070" stroke="#141414" stroke-width="0.98"/>
<circle cx="429.1" cy="459.4" r="1.15" fill="#141414"/>
<circle cx="446.5" cy="466.3" r="1.15" fill="#141414"/>
<circle cx="436.1" cy="470.7" r="1.15" fill="#707070" stroke="#141414" stroke-width="0.98"/>
<circle cx="438.2" cy="473.6" r="1.15" fill="#707070" stroke="#141414" stroke-width="0.98"/>
<circle cx="422.7" cy="474.8" r="1.15" fill="#141414"/>
<circle cx="425" cy="475.9" r="1.15" fill="#141414"/>
<circle cx="436.1" cy="475.9" r="1.15" fill="#141414"/>
<circle cx="434.3" cy="480.8" r="1.15" fill="#141414"/>
<circle cx="439.1" cy="482" r="1.15" fill="#141414"/>
<circle cx="452.9" cy="482" r="1.15" fill="#6f9562"/>
<circle cx="423" cy="487.8" r="1.15" fill="#141414"/>
<circle cx="425" cy="486.6" r="1.15" fill="#141414"/>
<circle cx="434.4" cy="487" r="1.15" fill="#141414"/>
<circle cx="428.5" cy="491.6" r="1.15" fill="#707070" stroke="#141414" stroke-width="0.98"/>
<circle cx="441.1" cy="490.8" r="1.15" fill="#8e2226"/>
<circle cx="444.9" cy="489.9" r="1.15" fill="#707070" stroke="#141414" stroke-width="0.98"/>
<circle cx="430" cy="494" r="1.15" fill="#141414"/>
<circle cx="432.9" cy="494.8" r="1.15" fill="#141414"/>
<circle cx="431.8" cy="495.9" r="1.15" fill="#141414"/>
<circle cx="435.3" cy="494.5" r="1.15" fill="#141414"/>
<circle cx="436.8" cy="497.4" r="1.15" fill="#707070" stroke="#141414" stroke-width="0.98"/>
<circle cx="429.4" cy="498" r="1.15" fill="#141414"/>
<circle cx="440.8" cy="497.8" r="1.15" fill="#141414"/>
<circle cx="439.1" cy="494" r="1.15" fill="#8e2226"/>
<circle cx="448.3" cy="498" r="1.15" fill="#6f9562"/>
<circle cx="461.8" cy="498.2" r="1.15" fill="#8e2226"/>
<circle cx="478.5" cy="497.7" r="1.15" fill="#8e2226"/>
<circle cx="492.3" cy="495.8" r="1.15" fill="#8e2226"/>
</svg></body></html>
